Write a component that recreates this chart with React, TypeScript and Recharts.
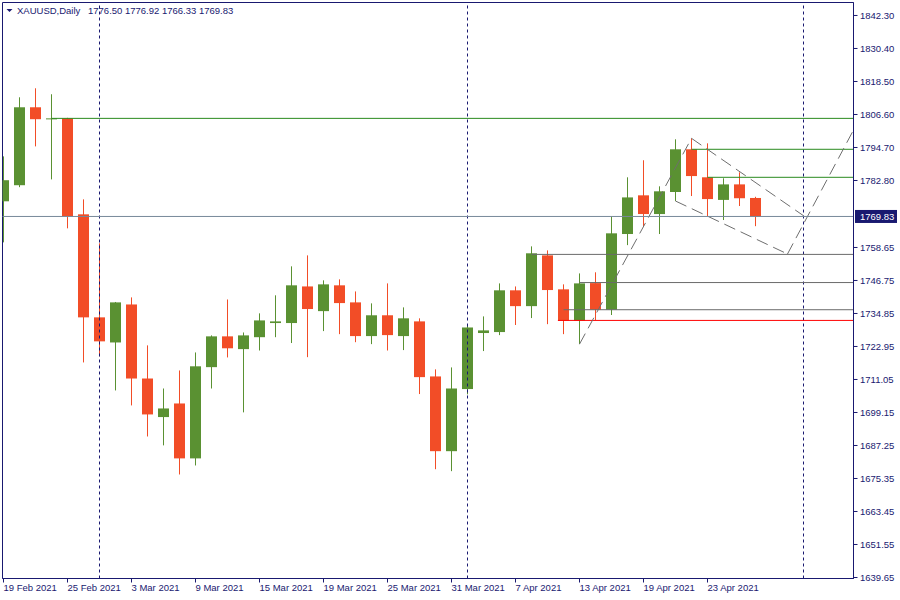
import React from 'react';
import { ComposedChart, Bar, XAxis, YAxis, ReferenceLine, ReferenceArea } from 'recharts';

// ---- data ----
const dates = [
  '19 Feb 2021', '22 Feb 2021', '23 Feb 2021', '24 Feb 2021', '25 Feb 2021', '26 Feb 2021',
  '1 Mar 2021', '2 Mar 2021', '3 Mar 2021', '4 Mar 2021', '5 Mar 2021', '8 Mar 2021',
  '9 Mar 2021', '10 Mar 2021', '11 Mar 2021', '12 Mar 2021', '15 Mar 2021', '16 Mar 2021',
  '17 Mar 2021', '18 Mar 2021', '19 Mar 2021', '22 Mar 2021', '23 Mar 2021', '24 Mar 2021',
  '25 Mar 2021', '26 Mar 2021', '29 Mar 2021', '30 Mar 2021', '31 Mar 2021', '1 Apr 2021',
  '5 Apr 2021', '6 Apr 2021', '7 Apr 2021', '8 Apr 2021', '9 Apr 2021', '12 Apr 2021',
  '13 Apr 2021', '14 Apr 2021', '15 Apr 2021', '16 Apr 2021', '19 Apr 2021', '20 Apr 2021',
  '21 Apr 2021', '22 Apr 2021', '23 Apr 2021', '26 Apr 2021', '27 Apr 2021', '28 Apr 2021',
];
const opens = [
  1775.3, 1781.1, 1809.2, 1805.0, 1805.2, 1770.6, 1733.45, 1724.4, 1738.1, 1711.4, 1697.5, 1702.4,
  1682.6, 1715.5, 1726.6, 1722.0, 1726.3, 1731.4, 1731.4, 1744.6, 1735.7, 1745.0, 1738.85, 1726.7,
  1734.2, 1726.7, 1732.0, 1712.15, 1685.2, 1707.6, 1727.8, 1728.15, 1743.2, 1737.5, 1755.8, 1743.55,
  1732.25, 1745.8, 1736.2, 1763.5, 1777.45, 1770.7, 1778.65, 1794.05, 1783.95, 1775.8, 1781.4, 1776.5,
];
const highs = [
  1791.5, 1812.8, 1816.05, 1813.9, 1805.4, 1776.0, 1760.15, 1739.0, 1740.65, 1723.35, 1707.8, 1714.3,
  1720.8, 1726.95, 1739.9, 1728.0, 1734.9, 1741.4, 1751.85, 1755.8, 1746.8, 1747.15, 1742.8, 1738.5,
  1745.7, 1737.05, 1733.1, 1714.7, 1715.4, 1730.9, 1733.8, 1745.7, 1744.6, 1759.05, 1757.6, 1745.35,
  1749.3, 1749.7, 1769.9, 1783.95, 1790.1, 1780.7, 1797.65, 1798.0, 1796.2, 1783.6, 1785.75, 1776.92,
];
const lows = [
  1760.5, 1780.4, 1795.1, 1783.2, 1765.55, 1717.2, 1719.4, 1707.1, 1701.7, 1690.5, 1687.3, 1676.8,
  1680.05, 1707.8, 1719.0, 1699.2, 1721.5, 1726.3, 1724.2, 1719.1, 1728.5, 1727.4, 1724.5, 1723.8,
  1721.5, 1721.65, 1705.8, 1678.7, 1678.0, 1705.7, 1721.3, 1727.05, 1730.7, 1733.2, 1731.0, 1727.4,
  1723.8, 1732.5, 1734.3, 1759.5, 1766.0, 1763.5, 1775.4, 1777.2, 1770.0, 1768.55, 1773.6, 1766.33,
];
const closes = [
  1782.9, 1809.2, 1804.9, 1805.2, 1769.9, 1733.45, 1724.8, 1738.85, 1711.4, 1698.45, 1700.6, 1682.6,
  1715.8, 1726.6, 1722.3, 1726.95, 1732.35, 1732.0, 1745.0, 1736.45, 1745.35, 1738.6, 1726.7, 1734.2,
  1727.05, 1733.1, 1711.9, 1685.2, 1707.8, 1729.8, 1728.75, 1743.2, 1737.5, 1756.55, 1743.3, 1732.25,
  1745.7, 1736.2, 1763.75, 1776.7, 1770.7, 1778.9, 1794.05, 1784.4, 1776.1, 1781.4, 1776.4, 1769.83,
];

const xTickIdx = [0, 4, 8, 12, 16, 20, 24, 28, 32, 36, 40, 44];
const yTicks = [
  1842.3, 1830.4, 1818.5, 1806.6, 1794.7, 1782.8, 1758.65, 1746.75, 1734.85, 1722.95,
  1711.05, 1699.15, 1687.25, 1675.35, 1663.45, 1651.55, 1639.65,
];
const separators = [6, 29, 50];
const lastPrice = 1769.83;
const headerSymbol = 'XAUUSD,Daily';
const headerValues = [1776.5, 1776.92, 1766.33, 1769.83];

// horizontal levels: start index, price
const greenLevels = [
  { start: 3, price: 1805.2 },
  { start: 43, price: 1794.05 },
  { start: 44, price: 1783.95 },
];
const grayLevels = [
  { start: 33, price: 1756.15 },
  { start: 36, price: 1746.0 },
  { start: 35, price: 1736.2 },
];
const redLevels = [{ start: 34.65, price: 1732.35 }];

// axis domains
const X_MIN = -0.0625;
const X_MAX = 53.125;
const Y_MIN = 1639.29;
const Y_MAX = 1846.98;

// dashed trend segments: [idx, price] -> [idx, price]
const trendSegments = [
  [[36, 1723.8], [43, 1798.0]],
  [[43, 1798.0], [50, 1770.1]],
  [[42, 1775.4], [49, 1756.3]],
  [[49, 1756.3], [X_MAX, 1801.0]],
];

const rows = dates.map((d, i) => ({
  idx: i,
  date: d,
  open: opens[i],
  high: highs[i],
  low: lows[i],
  close: closes[i],
}));

// ---- styles ----
const NAVY = '#191970';
const GREEN = '#5A9132';
const RED = '#F24D27';
const LEVEL_GREEN = '#2A8A1E';
const FONT = '"Liberation Sans", Arial, sans-serif';
const FS = 9.5;

const Candle = (props: any) => {
  const { x, y, width, height, payload } = props;
  if (x == null || y == null || !payload) return null;
  const { open, close, high, low } = payload;
  const cx = x + width / 2;
  const k = high - low > 0 ? height / (high - low) : 0;
  const yOf = (v: number) => y + (high - v) * k;
  const up = close >= open;
  const color = up ? GREEN : RED;
  const top = yOf(Math.max(open, close));
  const bot = yOf(Math.min(open, close));
  const bodyH = Math.max(1, bot - top);
  const bw = 11;
  const wx = Math.floor(cx);
  return (
    <g>
      <rect x={wx} y={y} width={1} height={height} fill={color} />
      <rect x={wx - (bw - 1) / 2} y={top} width={bw} height={bodyH} fill={color} />
    </g>
  );
};

const XTick = (props: any) => {
  const { x, y, payload } = props;
  return (
    <text x={x} y={y + 6.5} textAnchor="start" fontSize={FS} fontFamily={FONT} fill={NAVY}>
      {dates[payload.value]}
    </text>
  );
};

const PriceTag = (props: any) => {
  const vb = props.viewBox || {};
  const { x, y, width } = vb;
  if (x == null) return null;
  return (
    <g>
      <rect x={x + width + 1.5} y={y - 6.5} width={42} height={13} fill={NAVY} />
      <text x={x + width + 6.5} y={y} dy="0.35em" fontSize={FS} fontFamily={FONT} fill="#ffffff">
        {lastPrice.toFixed(2)}
      </text>
    </g>
  );
};

export default function App() {
  return (
    <div style={{ position: 'absolute', left: 0, top: 0, width: 900, height: 600, background: '#fff' }}>
      <ComposedChart
        width={900}
        height={600}
        data={rows}
        margin={{ top: 2.5, left: 2.5, right: 0, bottom: 0 }}
        style={{ fontFamily: FONT }}
      >
        <XAxis
          dataKey="idx"
          type="number"
          domain={[X_MIN, X_MAX]}
          allowDataOverflow
          ticks={xTickIdx}
          interval={0}
          height={21.5}
          tickSize={4}
          tickMargin={2}
          axisLine={{ stroke: NAVY }}
          tickLine={{ stroke: NAVY }}
          tick={<XTick />}
        />
        <YAxis
          orientation="right"
          type="number"
          domain={[Y_MIN, Y_MAX]}
          allowDataOverflow
          ticks={yTicks}
          interval={0}
          width={46.5}
          tickSize={4}
          tickMargin={2.5}
          axisLine={{ stroke: NAVY }}
          tickLine={{ stroke: NAVY }}
          tickFormatter={(v: number) => v.toFixed(2)}
          tick={{ fontSize: FS, fill: NAVY, fontFamily: FONT, textAnchor: 'start' }}
        />
        <ReferenceArea
          x1={X_MIN}
          x2={X_MAX}
          y1={Y_MIN}
          y2={Y_MAX}
          fill="none"
          fillOpacity={0}
          stroke={NAVY}
          strokeWidth={1}
          ifOverflow="visible"
        />
        {separators.map((s) => (
          <ReferenceLine key={'sep' + s} x={s} stroke={NAVY} strokeDasharray="3 3" strokeWidth={1} ifOverflow="hidden" />
        ))}
        {greenLevels.map((l, i) => (
          <ReferenceLine
            key={'g' + i}
            segment={[{ x: l.start, y: l.price }, { x: X_MAX, y: l.price }]}
            stroke={LEVEL_GREEN}
            strokeWidth={1}
            ifOverflow="hidden"
          />
        ))}
        {grayLevels.map((l, i) => (
          <ReferenceLine
            key={'gr' + i}
            segment={[{ x: l.start, y: l.price }, { x: X_MAX, y: l.price }]}
            stroke="#6B6B6B"
            strokeWidth={1}
            ifOverflow="hidden"
          />
        ))}
        {redLevels.map((l, i) => (
          <ReferenceLine
            key={'r' + i}
            segment={[{ x: l.start, y: l.price }, { x: X_MAX, y: l.price }]}
            stroke="#FF0000"
            strokeWidth={1}
            ifOverflow="hidden"
          />
        ))}
        {trendSegments.map((s, i) => (
          <ReferenceLine
            key={'t' + i}
            segment={[{ x: s[0][0], y: s[0][1] }, { x: s[1][0], y: s[1][1] }]}
            stroke="#6E6E6E"
            strokeDasharray="12 6"
            strokeWidth={1}
            ifOverflow="hidden"
          />
        ))}
        <ReferenceLine y={lastPrice} stroke="#778899" strokeWidth={1} label={(p: any) => <PriceTag {...p} />} />
        <Bar
          dataKey={(d: any) => [d.low, d.high]}
          barSize={11}
          shape={<Candle />}
          isAnimationActive={false}
        />
      </ComposedChart>
      <svg
        width={900}
        height={20}
        style={{ position: 'absolute', left: 0, top: 0, pointerEvents: 'none' }}
      >
        <polygon points="6.5,9 12.5,9 9.5,12" fill={NAVY} />
        <text x={17} y={14} fontSize={FS} fontFamily={FONT} fill={NAVY}>
          {headerSymbol}
        </text>
        <text x={88} y={14} fontSize={FS} fontFamily={FONT} fill={NAVY}>
          {headerValues.map((v) => v.toFixed(2)).join(' ')}
        </text>
      </svg>
    </div>
  );
}
